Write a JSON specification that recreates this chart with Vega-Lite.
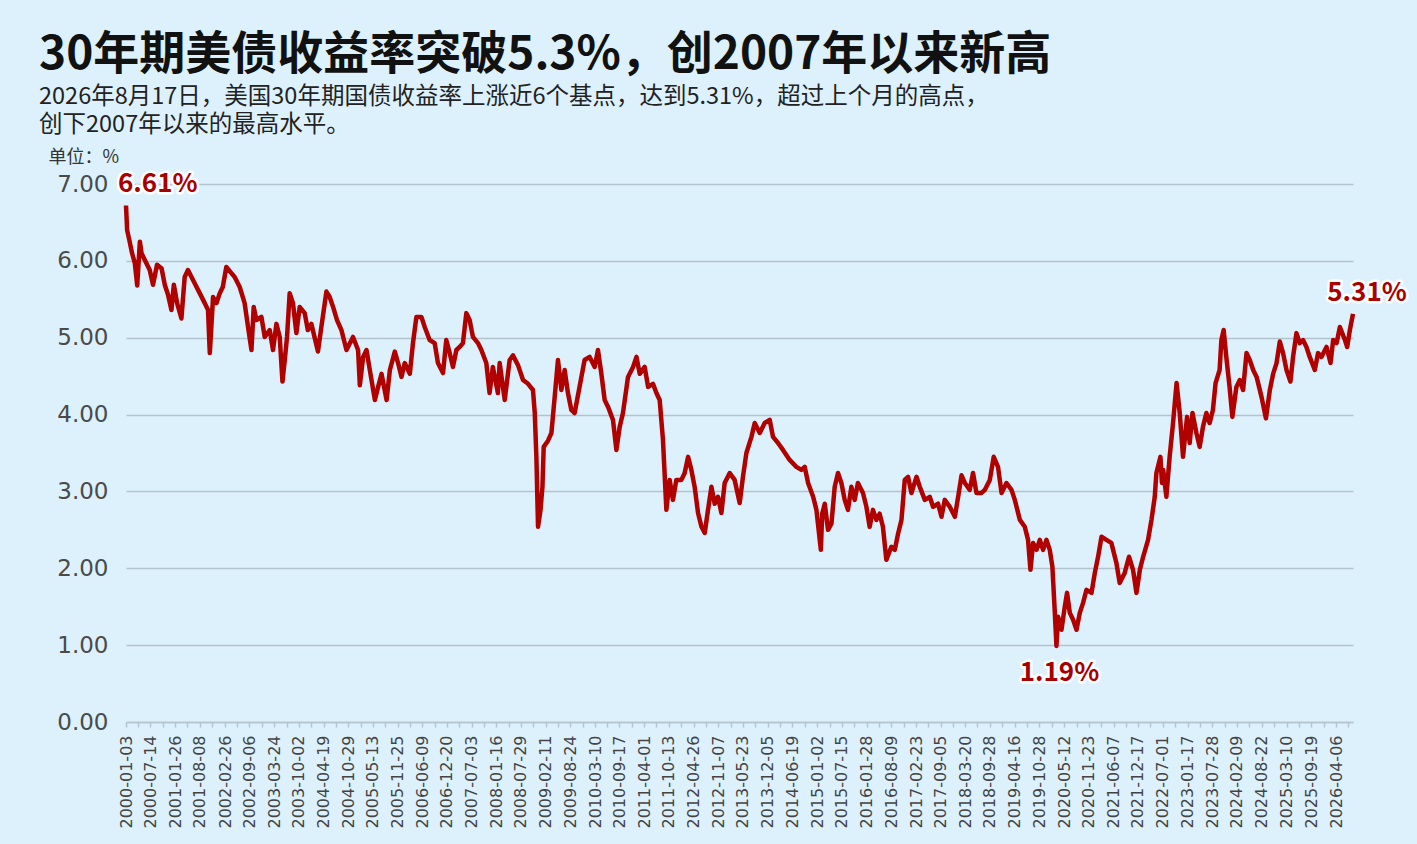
{
"$schema": "https://vega.github.io/schema/vega-lite/v6.json",
"width": 1227,
"height": 538,
"autosize": {"type": "none"},
"padding": {"left": 126, "top": 184, "right": 64, "bottom": 122},
"background": "#dcf1fb",
"config": {"view": {"stroke": null}},
"title": {
  "text": "30年期美债收益率突破5.3%，创2007年以来新高",
  "subtitle": ["2026年8月17日，美国30年期国债收益率上涨近6个基点，达到5.31%，超过上个月的高点，", "创下2007年以来的最高水平。"],
  "anchor": "start", "frame": "group", "dx": -87, "offset": 11,
  "font": "Noto Sans CJK SC", "fontSize": 46, "fontWeight": "bold", "color": "#111111",
  "subtitleFont": "Noto Sans CJK SC", "subtitleFontSize": 23.5, "subtitleColor": "#222222",
  "subtitleLineHeight": 27.5, "subtitlePadding": 6
},
"datasets": {
"series": [
{"date":"2000-01-03","yield":6.72},{"date":"2000-01-12","yield":6.40},{"date":"2000-02-01","yield":6.25},{"date":"2000-02-20","yield":6.10},{"date":"2000-03-13","yield":5.97},{"date":"2000-04-01","yield":5.68},{"date":"2000-04-22","yield":6.25},{"date":"2000-05-05","yield":6.10},{"date":"2000-05-31","yield":6.01},{"date":"2000-07-09","yield":5.88},{"date":"2000-08-04","yield":5.69},{"date":"2000-09-05","yield":5.95},{"date":"2000-10-11","yield":5.90},{"date":"2000-11-05","yield":5.69},{"date":"2000-12-01","yield":5.56},{"date":"2000-12-28","yield":5.36},
{"date":"2001-01-16","yield":5.69},{"date":"2001-02-11","yield":5.45},{"date":"2001-03-17","yield":5.25},{"date":"2001-04-12","yield":5.79},{"date":"2001-05-08","yield":5.88},{"date":"2001-06-17","yield":5.75},{"date":"2001-08-09","yield":5.58},{"date":"2001-09-18","yield":5.45},{"date":"2001-10-14","yield":5.36},{"date":"2001-10-28","yield":4.80},{"date":"2001-11-23","yield":5.53},{"date":"2001-12-20","yield":5.45},
{"date":"2002-01-15","yield":5.58},{"date":"2002-02-08","yield":5.66},{"date":"2002-03-08","yield":5.92},{"date":"2002-04-17","yield":5.84},{"date":"2002-05-13","yield":5.79},{"date":"2002-06-22","yield":5.66},{"date":"2002-07-31","yield":5.45},{"date":"2002-08-27","yield":5.14},{"date":"2002-09-23","yield":4.84},{"date":"2002-10-11","yield":5.40},{"date":"2002-11-01","yield":5.23},{"date":"2002-12-11","yield":5.27},
{"date":"2003-01-06","yield":5.01},{"date":"2003-02-15","yield":5.10},{"date":"2003-03-13","yield":4.84},{"date":"2003-04-09","yield":5.18},{"date":"2003-05-05","yield":5.01},{"date":"2003-05-27","yield":4.43},{"date":"2003-06-14","yield":4.71},{"date":"2003-07-02","yield":5.01},{"date":"2003-07-23","yield":5.58},{"date":"2003-08-18","yield":5.45},{"date":"2003-09-14","yield":5.06},{"date":"2003-10-10","yield":5.40},{"date":"2003-11-19","yield":5.32},{"date":"2003-12-14","yield":5.10},
{"date":"2004-01-11","yield":5.18},{"date":"2004-03-03","yield":4.82},{"date":"2004-03-30","yield":5.14},{"date":"2004-05-09","yield":5.60},{"date":"2004-06-04","yield":5.53},{"date":"2004-07-01","yield":5.40},{"date":"2004-08-01","yield":5.23},{"date":"2004-09-05","yield":5.10},{"date":"2004-10-15","yield":4.84},{"date":"2004-12-06","yield":5.01},
{"date":"2005-01-15","yield":4.84},{"date":"2005-01-29","yield":4.38},{"date":"2005-02-24","yield":4.75},{"date":"2005-03-23","yield":4.84},{"date":"2005-04-18","yield":4.58},{"date":"2005-05-28","yield":4.19},{"date":"2005-06-23","yield":4.36},{"date":"2005-07-20","yield":4.53},{"date":"2005-08-29","yield":4.19},{"date":"2005-09-24","yield":4.58},{"date":"2005-11-02","yield":4.82},{"date":"2005-11-28","yield":4.67},{"date":"2005-12-25","yield":4.49},
{"date":"2006-01-20","yield":4.67},{"date":"2006-03-01","yield":4.53},{"date":"2006-03-26","yield":4.93},{"date":"2006-04-22","yield":5.27},{"date":"2006-06-01","yield":5.27},{"date":"2006-06-27","yield":5.14},{"date":"2006-08-05","yield":4.97},{"date":"2006-09-14","yield":4.93},{"date":"2006-10-10","yield":4.67},{"date":"2006-11-19","yield":4.54},{"date":"2006-12-15","yield":4.97},
{"date":"2007-01-11","yield":4.80},{"date":"2007-02-06","yield":4.62},{"date":"2007-03-05","yield":4.84},{"date":"2007-03-31","yield":4.88},{"date":"2007-04-26","yield":4.93},{"date":"2007-05-23","yield":5.32},{"date":"2007-06-18","yield":5.23},{"date":"2007-07-14","yield":5.01},{"date":"2007-08-23","yield":4.93},{"date":"2007-09-19","yield":4.84},{"date":"2007-10-28","yield":4.67},{"date":"2007-11-23","yield":4.28},{"date":"2007-12-19","yield":4.62},
{"date":"2008-01-28","yield":4.28},{"date":"2008-02-11","yield":4.67},{"date":"2008-03-22","yield":4.19},{"date":"2008-04-30","yield":4.71},{"date":"2008-05-27","yield":4.77},{"date":"2008-07-06","yield":4.64},{"date":"2008-08-14","yield":4.45},{"date":"2008-09-23","yield":4.40},{"date":"2008-11-01","yield":4.32},{"date":"2008-11-15","yield":4.02},{"date":"2008-11-28","yield":3.45},{"date":"2008-12-11","yield":2.54},{"date":"2008-12-30","yield":2.75},
{"date":"2009-01-15","yield":3.06},{"date":"2009-01-25","yield":3.58},{"date":"2009-02-28","yield":3.66},{"date":"2009-03-27","yield":3.76},{"date":"2009-04-22","yield":4.23},{"date":"2009-05-18","yield":4.71},{"date":"2009-06-14","yield":4.32},{"date":"2009-07-10","yield":4.58},{"date":"2009-08-05","yield":4.28},{"date":"2009-09-01","yield":4.06},{"date":"2009-09-27","yield":4.02},{"date":"2009-11-05","yield":4.36},{"date":"2009-12-15","yield":4.71},
{"date":"2010-01-24","yield":4.75},{"date":"2010-03-05","yield":4.62},{"date":"2010-03-31","yield":4.84},{"date":"2010-04-27","yield":4.53},{"date":"2010-05-23","yield":4.19},{"date":"2010-06-19","yield":4.10},{"date":"2010-07-28","yield":3.93},{"date":"2010-08-24","yield":3.54},{"date":"2010-09-19","yield":3.84},{"date":"2010-10-15","yield":4.02},{"date":"2010-11-24","yield":4.49},
{"date":"2011-01-03","yield":4.62},{"date":"2011-01-30","yield":4.75},{"date":"2011-02-25","yield":4.53},{"date":"2011-04-05","yield":4.62},{"date":"2011-05-02","yield":4.36},{"date":"2011-06-10","yield":4.40},{"date":"2011-07-07","yield":4.28},{"date":"2011-08-02","yield":4.19},{"date":"2011-08-28","yield":3.67},{"date":"2011-09-24","yield":2.76},{"date":"2011-10-20","yield":3.15},{"date":"2011-11-15","yield":2.89},{"date":"2011-12-12","yield":3.15},
{"date":"2012-01-21","yield":3.15},{"date":"2012-02-16","yield":3.24},{"date":"2012-03-14","yield":3.45},{"date":"2012-04-09","yield":3.28},{"date":"2012-05-05","yield":3.06},{"date":"2012-06-01","yield":2.72},{"date":"2012-06-28","yield":2.54},{"date":"2012-07-24","yield":2.46},{"date":"2012-08-19","yield":2.76},{"date":"2012-09-15","yield":3.06},{"date":"2012-10-11","yield":2.84},{"date":"2012-11-06","yield":2.93},{"date":"2012-12-03","yield":2.72},{"date":"2012-12-29","yield":3.11},
{"date":"2013-02-07","yield":3.24},{"date":"2013-03-18","yield":3.15},{"date":"2013-04-27","yield":2.85},{"date":"2013-05-23","yield":3.19},{"date":"2013-06-19","yield":3.50},{"date":"2013-07-29","yield":3.71},{"date":"2013-08-24","yield":3.89},{"date":"2013-10-03","yield":3.76},{"date":"2013-11-11","yield":3.89},{"date":"2013-12-21","yield":3.93},
{"date":"2014-01-16","yield":3.71},{"date":"2014-02-25","yield":3.63},{"date":"2014-04-05","yield":3.54},{"date":"2014-05-28","yield":3.41},{"date":"2014-07-20","yield":3.32},{"date":"2014-08-29","yield":3.28},{"date":"2014-09-24","yield":3.32},{"date":"2014-10-21","yield":3.11},{"date":"2014-11-30","yield":2.93},{"date":"2014-12-26","yield":2.76},
{"date":"2015-01-30","yield":2.24},{"date":"2015-02-10","yield":2.71},{"date":"2015-03-02","yield":2.84},{"date":"2015-03-28","yield":2.50},{"date":"2015-04-24","yield":2.58},{"date":"2015-05-20","yield":3.06},{"date":"2015-06-15","yield":3.24},{"date":"2015-07-12","yield":3.11},{"date":"2015-08-07","yield":2.89},{"date":"2015-09-02","yield":2.76},{"date":"2015-09-29","yield":3.06},{"date":"2015-10-25","yield":2.89},{"date":"2015-11-20","yield":3.11},{"date":"2015-12-30","yield":2.98},
{"date":"2016-01-26","yield":2.80},{"date":"2016-02-21","yield":2.54},{"date":"2016-03-18","yield":2.76},{"date":"2016-04-14","yield":2.63},{"date":"2016-05-10","yield":2.71},{"date":"2016-06-05","yield":2.54},{"date":"2016-07-02","yield":2.11},{"date":"2016-08-11","yield":2.28},{"date":"2016-09-07","yield":2.24},{"date":"2016-10-03","yield":2.45},{"date":"2016-10-30","yield":2.63},{"date":"2016-11-25","yield":3.15},{"date":"2016-12-21","yield":3.19},
{"date":"2017-01-17","yield":2.98},{"date":"2017-02-26","yield":3.19},{"date":"2017-03-24","yield":3.06},{"date":"2017-05-03","yield":2.89},{"date":"2017-06-11","yield":2.93},{"date":"2017-07-07","yield":2.80},{"date":"2017-08-16","yield":2.84},{"date":"2017-09-12","yield":2.67},{"date":"2017-10-08","yield":2.89},{"date":"2017-11-17","yield":2.80},{"date":"2017-12-27","yield":2.67},
{"date":"2018-01-22","yield":2.93},{"date":"2018-02-18","yield":3.21},{"date":"2018-03-16","yield":3.11},{"date":"2018-04-24","yield":3.02},{"date":"2018-05-20","yield":3.24},{"date":"2018-06-16","yield":2.98},{"date":"2018-07-26","yield":2.98},{"date":"2018-08-21","yield":3.02},{"date":"2018-09-30","yield":3.15},{"date":"2018-10-31","yield":3.45},{"date":"2018-12-04","yield":3.32},
{"date":"2019-01-01","yield":2.98},{"date":"2019-02-09","yield":3.11},{"date":"2019-03-21","yield":3.02},{"date":"2019-04-16","yield":2.89},{"date":"2019-05-26","yield":2.63},{"date":"2019-07-04","yield":2.54},{"date":"2019-07-30","yield":2.37},{"date":"2019-08-18","yield":1.98},{"date":"2019-09-08","yield":2.33},{"date":"2019-10-05","yield":2.24},{"date":"2019-10-31","yield":2.37},{"date":"2019-11-26","yield":2.24},{"date":"2019-12-23","yield":2.37},
{"date":"2020-01-18","yield":2.24},{"date":"2020-02-08","yield":2.02},{"date":"2020-02-26","yield":1.46},{"date":"2020-03-11","yield":0.99},{"date":"2020-03-24","yield":1.37},{"date":"2020-04-20","yield":1.20},{"date":"2020-05-16","yield":1.50},{"date":"2020-06-03","yield":1.68},{"date":"2020-06-25","yield":1.42},{"date":"2020-07-21","yield":1.33},{"date":"2020-08-17","yield":1.20},{"date":"2020-09-12","yield":1.42},{"date":"2020-10-08","yield":1.55},{"date":"2020-11-04","yield":1.72},{"date":"2020-12-14","yield":1.68},
{"date":"2021-01-09","yield":1.94},{"date":"2021-02-04","yield":2.15},{"date":"2021-03-03","yield":2.41},{"date":"2021-04-11","yield":2.37},{"date":"2021-05-20","yield":2.33},{"date":"2021-06-29","yield":2.07},{"date":"2021-07-25","yield":1.81},{"date":"2021-09-03","yield":1.94},{"date":"2021-10-07","yield":2.15},{"date":"2021-11-08","yield":1.98},{"date":"2021-12-05","yield":1.68},
{"date":"2022-01-01","yield":1.98},{"date":"2022-01-27","yield":2.15},{"date":"2022-03-07","yield":2.37},{"date":"2022-04-03","yield":2.63},{"date":"2022-04-29","yield":2.93},{"date":"2022-05-12","yield":3.24},{"date":"2022-06-13","yield":3.45},{"date":"2022-06-25","yield":3.11},{"date":"2022-07-05","yield":3.28},{"date":"2022-07-30","yield":2.93},{"date":"2022-08-25","yield":3.45},{"date":"2022-09-21","yield":3.89},{"date":"2022-10-19","yield":4.41},{"date":"2022-11-13","yield":4.02},{"date":"2022-12-09","yield":3.45},
{"date":"2023-01-10","yield":3.97},{"date":"2023-01-31","yield":3.63},{"date":"2023-02-22","yield":4.02},{"date":"2023-03-25","yield":3.76},{"date":"2023-04-20","yield":3.58},{"date":"2023-05-16","yield":3.84},{"date":"2023-06-12","yield":4.02},{"date":"2023-07-08","yield":3.89},{"date":"2023-08-03","yield":4.06},{"date":"2023-08-24","yield":4.41},{"date":"2023-09-25","yield":4.58},{"date":"2023-10-09","yield":4.97},{"date":"2023-10-27","yield":5.10},{"date":"2023-11-17","yield":4.75},{"date":"2023-12-13","yield":4.36},
{"date":"2024-01-04","yield":3.97},{"date":"2024-02-05","yield":4.36},{"date":"2024-03-03","yield":4.45},{"date":"2024-03-29","yield":4.32},{"date":"2024-04-25","yield":4.80},{"date":"2024-05-21","yield":4.71},{"date":"2024-06-17","yield":4.58},{"date":"2024-07-14","yield":4.49},{"date":"2024-08-22","yield":4.23},{"date":"2024-09-26","yield":3.95},{"date":"2024-10-27","yield":4.32},{"date":"2024-11-22","yield":4.53},{"date":"2024-12-19","yield":4.67},
{"date":"2025-01-14","yield":4.95},{"date":"2025-02-09","yield":4.80},{"date":"2025-03-08","yield":4.58},{"date":"2025-04-08","yield":4.43},{"date":"2025-04-29","yield":4.75},{"date":"2025-05-26","yield":5.06},{"date":"2025-06-21","yield":4.93},{"date":"2025-07-17","yield":4.97},{"date":"2025-08-13","yield":4.88},{"date":"2025-09-08","yield":4.75},{"date":"2025-10-18","yield":4.58},{"date":"2025-11-13","yield":4.80},{"date":"2025-12-10","yield":4.75},
{"date":"2026-01-19","yield":4.88},{"date":"2026-02-20","yield":4.67},{"date":"2026-03-13","yield":4.97},{"date":"2026-04-09","yield":4.93},{"date":"2026-05-05","yield":5.14},{"date":"2026-06-14","yield":4.97},{"date":"2026-07-02","yield":4.88},{"date":"2026-07-23","yield":5.10},{"date":"2026-08-17","yield":5.31}
],
"labels": [
{"date":"2000-01-03","yield":6.72,"label":"6.61%"},
{"date":"2020-03-11","yield":0.99,"label":"1.19%"},
{"date":"2026-08-17","yield":5.31,"label":"5.31%"}
]
},
"encoding": {
  "x": {"field": "date", "type": "temporal",
    "scale": {"nice": false, "domain": [{"year":2000,"month":1,"date":3,"utc":true},{"year":2026,"month":8,"date":17,"utc":true}]},
    "axis": {"title": null, "grid": false, "tickCount": 300, "labelOverlap": false, "labelFlush": false, "labelBound": false,
      "labelAngle": -90, "labelFont": "DejaVu Sans", "labelFontSize": 16, "labelColor": "#444444", "labelPadding": 8,
      "domainColor": "#b6c5ce", "domainWidth": 1.5, "tickColor": "#b6c5ce", "tickWidth": 1.5, "tickSize": 5,
      "labelExpr": "round(datum.index * 99) % 2 == 0 ? utcFormat(datum.value, '%Y-%m-%d') : ''",
      "values": [
{"year":2000,"month":1,"date":3,"utc":true},{"year":2000,"month":4,"date":8,"utc":true},
{"year":2000,"month":7,"date":14,"utc":true},{"year":2000,"month":10,"date":20,"utc":true},
{"year":2001,"month":1,"date":26,"utc":true},{"year":2001,"month":5,"date":3,"utc":true},
{"year":2001,"month":8,"date":8,"utc":true},{"year":2001,"month":11,"date":17,"utc":true},
{"year":2002,"month":2,"date":26,"utc":true},{"year":2002,"month":6,"date":2,"utc":true},
{"year":2002,"month":9,"date":6,"utc":true},{"year":2002,"month":12,"date":14,"utc":true},
{"year":2003,"month":3,"date":24,"utc":true},{"year":2003,"month":6,"date":28,"utc":true},
{"year":2003,"month":10,"date":2,"utc":true},{"year":2004,"month":1,"date":10,"utc":true},
{"year":2004,"month":4,"date":19,"utc":true},{"year":2004,"month":7,"date":24,"utc":true},
{"year":2004,"month":10,"date":29,"utc":true},{"year":2005,"month":2,"date":4,"utc":true},
{"year":2005,"month":5,"date":13,"utc":true},{"year":2005,"month":8,"date":19,"utc":true},
{"year":2005,"month":11,"date":25,"utc":true},{"year":2006,"month":3,"date":3,"utc":true},
{"year":2006,"month":6,"date":9,"utc":true},{"year":2006,"month":9,"date":14,"utc":true},
{"year":2006,"month":12,"date":20,"utc":true},{"year":2007,"month":3,"date":28,"utc":true},
{"year":2007,"month":7,"date":3,"utc":true},{"year":2007,"month":10,"date":9,"utc":true},
{"year":2008,"month":1,"date":16,"utc":true},{"year":2008,"month":4,"date":22,"utc":true},
{"year":2008,"month":7,"date":29,"utc":true},{"year":2008,"month":11,"date":4,"utc":true},
{"year":2009,"month":2,"date":11,"utc":true},{"year":2009,"month":5,"date":19,"utc":true},
{"year":2009,"month":8,"date":24,"utc":true},{"year":2009,"month":12,"date":1,"utc":true},
{"year":2010,"month":3,"date":10,"utc":true},{"year":2010,"month":6,"date":13,"utc":true},
{"year":2010,"month":9,"date":17,"utc":true},{"year":2010,"month":12,"date":24,"utc":true},
{"year":2011,"month":4,"date":1,"utc":true},{"year":2011,"month":7,"date":7,"utc":true},
{"year":2011,"month":10,"date":13,"utc":true},{"year":2012,"month":1,"date":19,"utc":true},
{"year":2012,"month":4,"date":26,"utc":true},{"year":2012,"month":8,"date":1,"utc":true},
{"year":2012,"month":11,"date":7,"utc":true},{"year":2013,"month":2,"date":14,"utc":true},
{"year":2013,"month":5,"date":23,"utc":true},{"year":2013,"month":8,"date":29,"utc":true},
{"year":2013,"month":12,"date":5,"utc":true},{"year":2014,"month":3,"date":12,"utc":true},
{"year":2014,"month":6,"date":19,"utc":true},{"year":2014,"month":9,"date":25,"utc":true},
{"year":2015,"month":1,"date":2,"utc":true},{"year":2015,"month":4,"date":9,"utc":true},
{"year":2015,"month":7,"date":15,"utc":true},{"year":2015,"month":10,"date":21,"utc":true},
{"year":2016,"month":1,"date":28,"utc":true},{"year":2016,"month":5,"date":4,"utc":true},
{"year":2016,"month":8,"date":9,"utc":true},{"year":2016,"month":11,"date":16,"utc":true},
{"year":2017,"month":2,"date":23,"utc":true},{"year":2017,"month":5,"date":30,"utc":true},
{"year":2017,"month":9,"date":5,"utc":true},{"year":2017,"month":12,"date":12,"utc":true},
{"year":2018,"month":3,"date":20,"utc":true},{"year":2018,"month":6,"date":24,"utc":true},
{"year":2018,"month":9,"date":28,"utc":true},{"year":2019,"month":1,"date":6,"utc":true},
{"year":2019,"month":4,"date":16,"utc":true},{"year":2019,"month":7,"date":22,"utc":true},
{"year":2019,"month":10,"date":28,"utc":true},{"year":2020,"month":2,"date":3,"utc":true},
{"year":2020,"month":5,"date":12,"utc":true},{"year":2020,"month":8,"date":17,"utc":true},
{"year":2020,"month":11,"date":23,"utc":true},{"year":2021,"month":3,"date":1,"utc":true},
{"year":2021,"month":6,"date":7,"utc":true},{"year":2021,"month":9,"date":11,"utc":true},
{"year":2021,"month":12,"date":17,"utc":true},{"year":2022,"month":3,"date":24,"utc":true},
{"year":2022,"month":7,"date":1,"utc":true},{"year":2022,"month":10,"date":9,"utc":true},
{"year":2023,"month":1,"date":17,"utc":true},{"year":2023,"month":4,"date":23,"utc":true},
{"year":2023,"month":7,"date":28,"utc":true},{"year":2023,"month":11,"date":3,"utc":true},
{"year":2024,"month":2,"date":9,"utc":true},{"year":2024,"month":5,"date":17,"utc":true},
{"year":2024,"month":8,"date":22,"utc":true},{"year":2024,"month":11,"date":30,"utc":true},
{"year":2025,"month":3,"date":10,"utc":true},{"year":2025,"month":6,"date":14,"utc":true},
{"year":2025,"month":9,"date":19,"utc":true},{"year":2025,"month":12,"date":27,"utc":true},
{"year":2026,"month":4,"date":6,"utc":true},{"year":2026,"month":7,"date":12,"utc":true}
      ]}},
  "y": {"field": "yield", "type": "quantitative",
    "scale": {"domain": [0, 7], "nice": false},
    "axis": {"title": "单位：%", "titleAngle": 0, "titleX": -78, "titleY": -27, "titleAlign": "left", "titleBaseline": "middle",
      "titleFont": "Noto Sans CJK SC", "titleFontSize": 18, "titleFontWeight": "normal", "titleColor": "#333333",
      "values": [0,1,2,3,4,5,6,7], "format": ".2f", "domain": false, "ticks": false,
      "grid": true, "gridColor": "#b3c3cd", "gridWidth": 1.5,
      "labelFont": "DejaVu Sans", "labelFontSize": 23, "labelColor": "#4a4a4a", "labelPadding": 18}}
},
"layer": [
  {"data": {"name": "series"}, "mark": {"type": "line", "color": "#b00000", "strokeWidth": 4.5, "strokeJoin": "round"}},
  {"data": {"name": "labels"}, "transform": [{"filter": "datum.label == '6.61%'"}],
   "mark": {"type": "text", "align": "left", "baseline": "middle", "dx": -8, "dy": -22, "font": "Noto Sans CJK SC", "fontSize": 26, "fontWeight": "bold", "fill": "white", "stroke": "white", "strokeWidth": 5, "strokeJoin": "round"},
   "encoding": {"text": {"field": "label"}}},
  {"data": {"name": "labels"}, "transform": [{"filter": "datum.label == '6.61%'"}],
   "mark": {"type": "text", "align": "left", "baseline": "middle", "dx": -8, "dy": -22, "font": "Noto Sans CJK SC", "fontSize": 26, "fontWeight": "bold", "color": "#a80000"},
   "encoding": {"text": {"field": "label"}}},
  {"data": {"name": "labels"}, "transform": [{"filter": "datum.label == '1.19%'"}],
   "mark": {"type": "text", "align": "center", "baseline": "middle", "dx": 3, "dy": 27, "font": "Noto Sans CJK SC", "fontSize": 26, "fontWeight": "bold", "fill": "white", "stroke": "white", "strokeWidth": 5, "strokeJoin": "round"},
   "encoding": {"text": {"field": "label"}}},
  {"data": {"name": "labels"}, "transform": [{"filter": "datum.label == '1.19%'"}],
   "mark": {"type": "text", "align": "center", "baseline": "middle", "dx": 3, "dy": 27, "font": "Noto Sans CJK SC", "fontSize": 26, "fontWeight": "bold", "color": "#a80000"},
   "encoding": {"text": {"field": "label"}}},
  {"data": {"name": "labels"}, "transform": [{"filter": "datum.label == '5.31%'"}],
   "mark": {"type": "text", "align": "center", "baseline": "middle", "dx": 14, "dy": -21, "font": "Noto Sans CJK SC", "fontSize": 26, "fontWeight": "bold", "fill": "white", "stroke": "white", "strokeWidth": 5, "strokeJoin": "round"},
   "encoding": {"text": {"field": "label"}}},
  {"data": {"name": "labels"}, "transform": [{"filter": "datum.label == '5.31%'"}],
   "mark": {"type": "text", "align": "center", "baseline": "middle", "dx": 14, "dy": -21, "font": "Noto Sans CJK SC", "fontSize": 26, "fontWeight": "bold", "color": "#a80000"},
   "encoding": {"text": {"field": "label"}}}
]
}
